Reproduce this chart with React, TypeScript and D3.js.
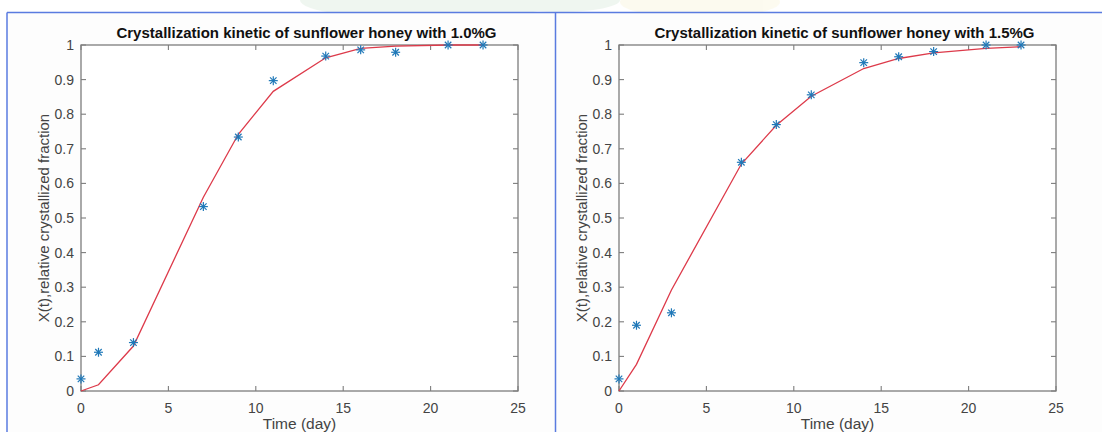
import React from "react";
import * as d3 from "d3";

const timeDays = [0, 1, 3, 7, 9, 11, 14, 16, 18, 21, 23];
const measured10 = [0.035, 0.112, 0.14, 0.533, 0.734, 0.897, 0.968, 0.986, 0.979, 1.0, 1.0];
const fitted10 = [0, 0.018, 0.13, 0.56, 0.742, 0.866, 0.963, 0.99, 0.997, 1.0, 1.0];
const measured15 = [0.035, 0.19, 0.226, 0.661, 0.77, 0.856, 0.949, 0.966, 0.981, 1.0, 1.0];
const fitted15 = [0, 0.077, 0.292, 0.656, 0.768, 0.852, 0.932, 0.961, 0.977, 0.99, 0.995];
const xTicks = [0, 5, 10, 15, 20, 25];
const yTicks = [0, 0.1, 0.2, 0.3, 0.4, 0.5, 0.6, 0.7, 0.8, 0.9, 1];
const titles = [
  "Crystallization kinetic of sunflower honey with 1.0%G",
  "Crystallization kinetic of sunflower honey with 1.5%G",
];
const xLabel = "Time (day)";
const yLabel = "X(t),relative crystallized fraction";

const FONT = "'Liberation Sans', Arial, Helvetica, sans-serif";

function Panel({ left, right, top, bottom, title, measured, fitted }: any) {
  const x = d3.scaleLinear().domain([0, 25]).range([left, right]);
  const y = d3.scaleLinear().domain([0, 1]).range([bottom, top]);
  const line = d3
    .line<number>()
    .x((_, i) => x(timeDays[i]))
    .y((d) => y(d));
  const tl = 5;
  const axisColor = "#7d7d7d";
  const textColor = "#444";
  const cx = (left + right) / 2;
  const cy = (top + bottom) / 2;
  return (
    <g>
      <rect x={left} y={top} width={right - left} height={bottom - top} fill="#fff" />
      {xTicks.map((t) => (
        <g key={"x" + t}>
          <line x1={x(t)} x2={x(t)} y1={bottom} y2={bottom - tl} stroke={axisColor} strokeWidth={1.1} />
          <line x1={x(t)} x2={x(t)} y1={top} y2={top + tl} stroke={axisColor} strokeWidth={1.1} />
          <text x={x(t)} y={bottom + 22} textAnchor="middle" fontSize={14} fill={textColor} fontFamily={FONT}>
            {t}
          </text>
        </g>
      ))}
      {yTicks.map((t) => (
        <g key={"y" + t}>
          <line x1={left} x2={left + tl} y1={y(t)} y2={y(t)} stroke={axisColor} strokeWidth={1.1} />
          <line x1={right} x2={right - tl} y1={y(t)} y2={y(t)} stroke={axisColor} strokeWidth={1.1} />
          <text x={left - 7} y={y(t) + 5} textAnchor="end" fontSize={14} fill={textColor} fontFamily={FONT}>
            {String(t)}
          </text>
        </g>
      ))}
      <rect x={left} y={top} width={right - left} height={bottom - top} fill="none" stroke={axisColor} strokeWidth={1.3} />
      <path d={line(fitted) || ""} fill="none" stroke="#dd3a4a" strokeWidth={1.3} />
      {measured.map((v: number, i: number) => {
        const px = x(timeDays[i]);
        const py = y(v);
        const r = 4.5;
        const d = r * 0.72;
        return (
          <g key={"m" + i} stroke="#1f78b8" strokeWidth={1.2}>
            <line x1={px - r} x2={px + r} y1={py} y2={py} />
            <line x1={px} x2={px} y1={py - r} y2={py + r} />
            <line x1={px - d} x2={px + d} y1={py - d} y2={py + d} />
            <line x1={px - d} x2={px + d} y1={py + d} y2={py - d} />
          </g>
        );
      })}
      <text x={cx + 7} y={top - 7} textAnchor="middle" fontSize={15} fontWeight="bold" fill="#111" fontFamily={FONT}>
        {title}
      </text>
      <text x={cx} y={bottom + 38} textAnchor="middle" fontSize={15.5} fill={textColor} fontFamily={FONT}>
        {xLabel}
      </text>
      <text
        transform={`translate(${left - 32},${cy}) rotate(-90)`}
        textAnchor="middle"
        fontSize={15}
        fill={textColor}
        fontFamily={FONT}
      >
        {yLabel}
      </text>
    </g>
  );
}

export default function App() {
  const W = 1102;
  const H = 432;
  const top = 45;
  const bottom = 391;
  return (
    <svg width={W} height={H} style={{ position: "absolute", left: 0, top: 0, background: "#fff" }}>
      <rect x={0} y={0} width={W} height={H} fill="#fff" />
      <g opacity={0.07}>
        <ellipse cx={430} cy={0} rx={130} ry={20} fill="#2e8b3a" />
        <ellipse cx={700} cy={2} rx={80} ry={16} fill="#e0c030" />
        <ellipse cx={560} cy={0} rx={60} ry={12} fill="#2e8b3a" />
      </g>
      <rect x={7} y={12.5} width={W} height={H} fill="#fdfdfd" />
      <line x1={7} x2={W} y1={12.5} y2={12.5} stroke="#5a7be0" strokeWidth={1.5} />
      <line x1={7} x2={7} y1={12.5} y2={H} stroke="#5a7be0" strokeWidth={1.5} />
      <line x1={555.5} x2={555.5} y1={12.5} y2={H} stroke="#5a7be0" strokeWidth={1.5} />
      <Panel left={81} right={518} top={top} bottom={bottom} title={titles[0]} measured={measured10} fitted={fitted10} />
      <Panel left={619} right={1056} top={top} bottom={bottom} title={titles[1]} measured={measured15} fitted={fitted15} />
    </svg>
  );
}
